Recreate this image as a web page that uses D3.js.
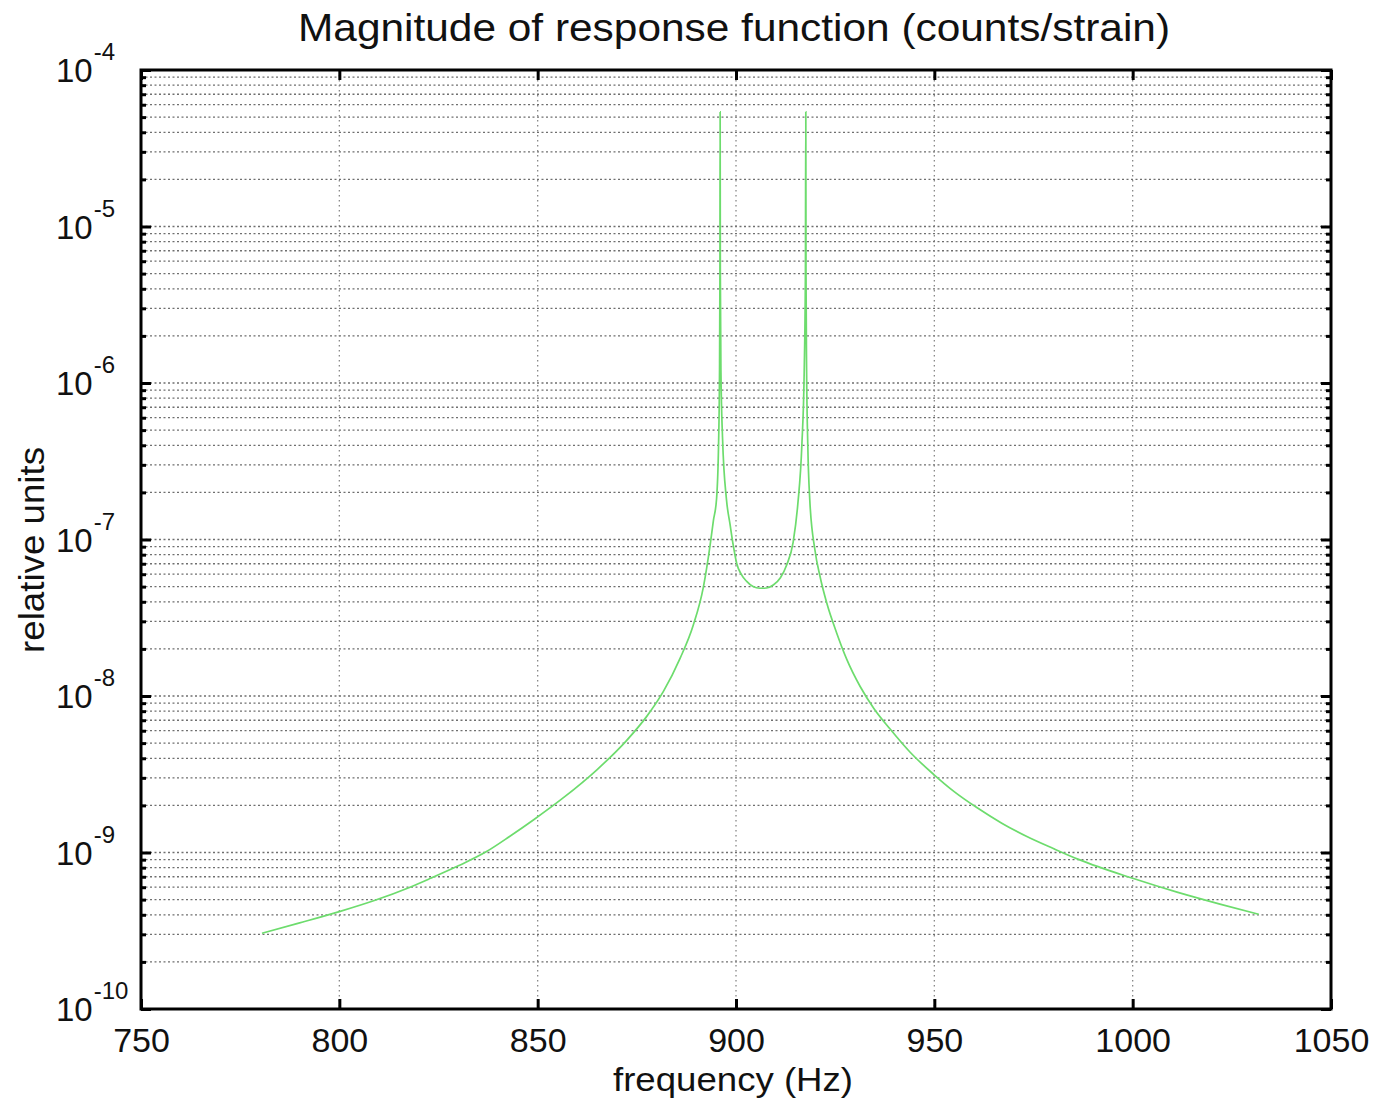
<!DOCTYPE html>
<html>
<head>
<meta charset="utf-8">
<script src="https://cdn.jsdelivr.net/npm/d3@7"></script>
<style>
  body { margin: 0; background: #fff; }
  text { font-family: "Liberation Sans", Arial, Helvetica, sans-serif; fill: #111; }
</style>
</head>
<body>
<div id="chart"></div>
<script>
// Magnitude of response function
const freq = [780.5, 790, 800, 809, 817.5, 823, 830, 837, 843, 849, 856.5, 865, 872.4, 877.5, 881.7, 885.9, 889.2,
  891.8, 893.5, 894.3, 895.1, 895.6, 895.85, 895.95, 896.0, 896.05, 896.2, 896.6, 897.6, 898.5, 899.3, 900.2,
  901.3, 902.7, 904.3, 906, 907.7, 909.4, 911.2, 912.8, 914.4, 915.6, 916.6, 917.2, 917.5, 917.6, 917.65, 917.8,
  918.1, 918.6, 919.9, 921.2, 922.9, 925.4, 927.9, 931.3, 934.8, 938.8, 943.9, 949.8, 955, 960.8, 967, 973.2,
  980, 986.5, 1000, 1011.4, 1022, 1031.8];
const magnitude = [3.05e-10, 3.55e-10, 4.19e-10, 4.95e-10, 5.96e-10, 6.84e-10, 8.22e-10, 1.01e-9, 1.27e-9, 1.62e-9,
  2.24e-9, 3.39e-9, 5.19e-9, 7.41e-9, 1.07e-8, 1.74e-8, 2.82e-8, 5.0e-8, 9.3e-8, 1.32e-7, 1.82e-7, 4e-7, 1.2e-6, 5e-6,
  5.4e-5, 5e-6, 1.2e-6, 4.5e-7, 1.8e-7, 1.25e-7, 9.2e-8, 7.0e-8, 6.0e-8, 5.4e-8, 5.0e-8, 4.88e-8, 4.9e-8, 5.12e-8,
  5.7e-8, 6.9e-8, 9.6e-8, 1.7e-7, 4e-7, 1.2e-6, 5e-6, 5.4e-5, 5e-6, 1.2e-6, 4e-7, 1.79e-7, 8.57e-8, 5.78e-8,
  3.91e-8, 2.52e-8, 1.72e-8, 1.15e-8, 8.3e-9, 6.17e-9, 4.37e-9, 3.16e-9, 2.45e-9, 1.93e-9, 1.54e-9, 1.27e-9,
  1.06e-9, 9.0e-10, 6.84e-10, 5.56e-10, 4.68e-10, 4.03e-10];

const xTicks = [750, 800, 850, 900, 950, 1000, 1050];
const yExponents = [-10, -9, -8, -7, -6, -5, -4];
const minorMultipliers = [2, 3, 4, 5, 6, 7, 8, 9];

const titleText = "Magnitude of response function (counts/strain)";
const xLabelText = "frequency (Hz)";
const yLabelText = "relative units";

const width = 1379;
const height = 1105;
const margin = { top: 70, right: 48, bottom: 96, left: 141 };

const svg = d3.select("#chart")
  .append("svg")
  .attr("width", width)
  .attr("height", height);

const x = d3.scaleLinear()
  .domain([750, 1050])
  .range([margin.left, width - margin.right]);

const y = d3.scaleLog()
  .domain([1e-10, 1e-4])
  .range([height - margin.bottom, margin.top]);

const majorY = yExponents.map(e => Math.pow(10, e));
const minorY = [];
yExponents.slice(0, -1).forEach(e => {
  minorMultipliers.forEach(m => minorY.push(m * Math.pow(10, e)));
});

// grid
svg.append("g")
  .selectAll("line")
  .data(minorY.concat(majorY.slice(1, -1)))
  .enter()
  .append("line")
  .attr("x1", x(750)).attr("x2", x(1050))
  .attr("y1", d => y(d)).attr("y2", d => y(d))
  .attr("stroke", "#6f6f6f")
  .attr("stroke-width", 1.3)
  .attr("stroke-dasharray", "2,2.5");

svg.append("g")
  .selectAll("line")
  .data(xTicks.slice(1, -1))
  .enter()
  .append("line")
  .attr("x1", d => x(d)).attr("x2", d => x(d))
  .attr("y1", y(1e-4)).attr("y2", y(1e-10))
  .attr("stroke", "#888")
  .attr("stroke-width", 1.3)
  .attr("stroke-dasharray", "1.5,3.5");

// curve
const line = d3.line()
  .x((d, i) => x(freq[i]))
  .y(d => y(d))
  .curve(d3.curveMonotoneX);

svg.append("path")
  .datum(magnitude)
  .attr("fill", "none")
  .attr("stroke", "#6ddc6d")
  .attr("stroke-width", 1.7)
  .attr("d", line);

// ticks (all pointing inside)
const yb = height - margin.bottom;
const xr = width - margin.right;

svg.append("g")
  .attr("transform", `translate(0,${yb})`)
  .call(d3.axisBottom(x).tickValues(xTicks).tickFormat(d3.format("d"))
    .tickSizeInner(-10).tickSizeOuter(0).tickPadding(19))
  .call(g => g.select(".domain").remove())
  .call(g => g.selectAll("line").attr("stroke-width", 3))
  .call(g => g.selectAll("text").attr("font-size", 34).attr("font-family", null).attr("fill", "#111"));

svg.append("g")
  .attr("transform", `translate(0,${margin.top})`)
  .call(d3.axisTop(x).tickValues(xTicks).tickSizeInner(-10).tickSizeOuter(0).tickFormat(""))
  .call(g => g.select(".domain").remove())
  .call(g => g.selectAll("line").attr("stroke-width", 3));

[[margin.left, d3.axisLeft], [xr, d3.axisRight]].forEach(([pos, axis]) => {
  svg.append("g")
    .attr("transform", `translate(${pos},0)`)
    .call(axis(y).tickValues(minorY).tickSizeInner(-5).tickSizeOuter(0).tickFormat(""))
    .call(g => g.select(".domain").remove())
    .call(g => g.selectAll("line").attr("stroke-width", 3));
  svg.append("g")
    .attr("transform", `translate(${pos},0)`)
    .call(axis(y).tickValues(majorY).tickSizeInner(-10).tickSizeOuter(0).tickFormat(""))
    .call(g => g.select(".domain").remove())
    .call(g => g.selectAll("line").attr("stroke-width", 3));
});

// y tick labels: 10^n
const yLab = svg.append("g")
  .selectAll("text")
  .data(yExponents)
  .enter()
  .append("text")
  .attr("x", 56)
  .attr("y", d => y(Math.pow(10, d)) + 12)
  .attr("font-size", 33);
yLab.append("tspan").text("10");
yLab.append("tspan")
  .attr("dy", -22)
  .attr("dx", 1)
  .attr("font-size", 24)
  .text(d => String(d));

// frame
svg.append("rect")
  .attr("x", margin.left)
  .attr("y", margin.top)
  .attr("width", xr - margin.left)
  .attr("height", yb - margin.top)
  .attr("fill", "none")
  .attr("stroke", "#000")
  .attr("stroke-width", 3);

// titles
svg.append("text")
  .attr("x", 734)
  .attr("y", 41)
  .attr("text-anchor", "middle")
  .attr("font-size", 38)
  .attr("textLength", 872)
  .attr("lengthAdjust", "spacingAndGlyphs")
  .text(titleText);

svg.append("text")
  .attr("x", 733)
  .attr("y", 1091)
  .attr("text-anchor", "middle")
  .attr("font-size", 33)
  .attr("textLength", 240)
  .attr("lengthAdjust", "spacingAndGlyphs")
  .text(xLabelText);

svg.append("text")
  .attr("transform", `translate(44,550) rotate(-90)`)
  .attr("text-anchor", "middle")
  .attr("font-size", 35)
  .attr("textLength", 206)
  .attr("lengthAdjust", "spacingAndGlyphs")
  .text(yLabelText);
</script>
</body>
</html>
